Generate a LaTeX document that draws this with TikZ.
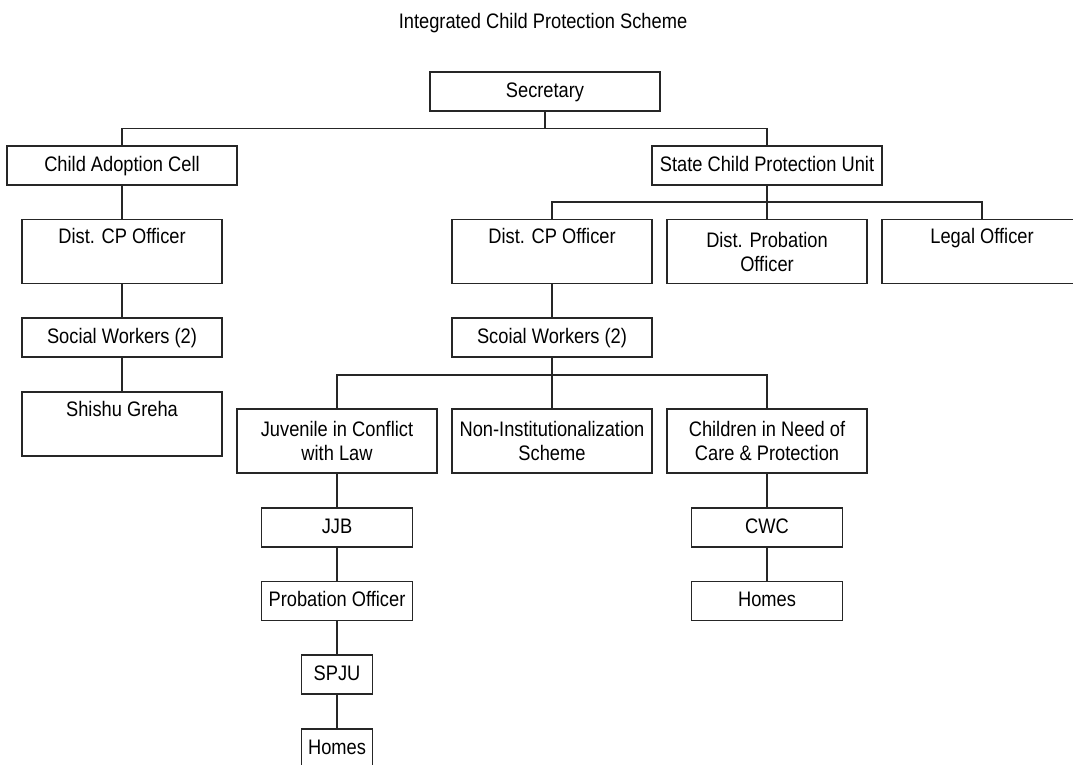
\documentclass[tikz,border=0pt]{standalone}
\usepackage{fontspec}
\setmainfont[FakeStretch=0.87]{Liberation Sans}
\usepackage{tikz}

\tikzset{
  frame/.style={draw=black!85, line width=1.2pt, minimum width=200pt,
    inner sep=0pt, align=center, font=\fontsize{21}{24}\selectfont},
  box/.style={frame, minimum height=39pt, text height=15.5pt, text depth=4.5pt},
  tallbox/.style={frame, minimum height=64pt},
  wire/.style={draw=black!85, line width=1.2pt}
}

\begin{document}
\begin{tikzpicture}[x=1pt,y=1pt]
\useasboundingbox (0,0) rectangle (1073,-764);
\clip (0,0) rectangle (1073,-764);
\node [anchor=base, font=\fontsize{21}{24}\selectfont] (title) at (543,-28) {Integrated Child Protection Scheme};
%top
\node [box, minimum width=230pt] (sec) at (545,-91.5) {Secretary};
\node [box, minimum width=230pt] (adopt) at (122,-165.5) {Child Adoption Cell};
\node [box, minimum width=230pt] (scpu) at (767,-165.5) {State Child Protection Unit};
\coordinate (bar1) at (545,-128.5);
%left branch
\node [tallbox] (ldcp) at (122,-251.5) {Dist. CP Officer\\\strut};
\node [box] (lsw) at (122,-337.5) {Social Workers (2)};
\node [tallbox] (shishu) at (122,-424) {Shishu Greha\\\strut};
%state unit
\node [tallbox] (rdcp) at (552,-251.5) {Dist. CP Officer\\\strut};
\node [tallbox] (dpo) at (767,-251.5) {Dist. Probation\\Officer};
\node [tallbox] (legal) at (982,-251.5) {Legal Officer\\\strut};
\coordinate (bar2) at (767,-202);
\node [box] (rsw) at (552,-337.5) {Scoial Workers (2)};
\coordinate (bar3) at (552,-375);
%schemes
\node [tallbox] (jcl) at (337,-441) {Juvenile in Conflict\\with Law};
\node [tallbox] (nis) at (552,-441) {Non-Institutionalization\\Scheme};
\node [tallbox] (cncp) at (767,-441) {Children in Need of\\Care \& Protection};
\node [box, minimum width=151pt] (jjb) at (337,-527.5) {JJB};
\node [box, minimum width=151pt] (po) at (337,-601) {Probation Officer};
\node [box, minimum width=71pt] (spju) at (337,-674.5) {SPJU};
\node [box, minimum width=71pt] (homesj) at (337,-748.5) {Homes};
\node [box, minimum width=151pt] (cwc) at (767,-527.5) {CWC};
\node [box, minimum width=151pt] (homesc) at (767,-601) {Homes};

\draw [wire] (sec.south) -- (bar1);
\draw [wire] (adopt.north) |- (bar1) -| (scpu.north);
\draw [wire] (adopt.south) -- (ldcp.north);
\draw [wire] (ldcp.south) -- (lsw.north);
\draw [wire] (lsw.south) -- (shishu.north);
\draw [wire] (scpu.south) -- (bar2);
\draw [wire] (rdcp.north) |- (bar2) -| (legal.north);
\draw [wire] (bar2) -- (dpo.north);
\draw [wire] (rdcp.south) -- (rsw.north);
\draw [wire] (rsw.south) -- (bar3);
\draw [wire] (jcl.north) |- (bar3) -| (cncp.north);
\draw [wire] (bar3) -- (nis.north);
\draw [wire] (jcl.south) -- (jjb.north);
\draw [wire] (jjb.south) -- (po.north);
\draw [wire] (po.south) -- (spju.north);
\draw [wire] (spju.south) -- (homesj.north);
\draw [wire] (cncp.south) -- (cwc.north);
\draw [wire] (cwc.south) -- (homesc.north);
\end{tikzpicture}
\end{document}
